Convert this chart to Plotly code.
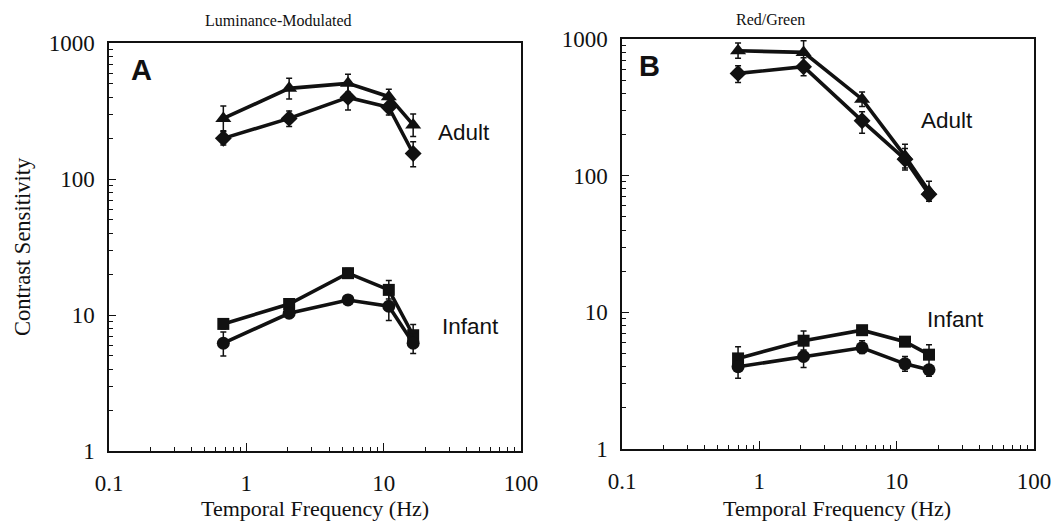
import plotly.graph_objects as go

# ---------------- data ----------------
freq_A = [0.68, 2.05, 5.5, 10.9, 16.4]
freq_B = [0.70, 2.1, 5.6, 11.5, 17.2]

# Panel A : Luminance-Modulated
A_adult_tri = [279, 464, 505, 403, 250]
A_adult_tri_hi = [344, 550, 588, 457, 301]
A_adult_tri_lo = [226, 388, 434, 355, 205]
A_adult_dia = [199, 279, 398, 337, 154]
A_adult_dia_hi = [223, 316, 493, 384, 188]
A_adult_dia_lo = [178, 243, 321, 296, 123]
A_inf_sq = [8.6, 12.05, 20.3, 15.3, 7.1]
A_inf_sq_hi = [9.3, 13.0, 22.0, 17.9, 8.5]
A_inf_sq_lo = [7.9, 11.2, 18.7, 13.1, 5.9]
A_inf_circ = [6.2, 10.3, 12.9, 11.6, 6.2]
A_inf_circ_hi = [7.5, 11.0, 13.8, 14.5, 7.4]
A_inf_circ_lo = [5.0, 9.6, 12.1, 9.1, 5.2]

# Panel B : Red/Green
B_adult_tri = [820, 798, 363, 139, 77]
B_adult_tri_hi = [935, 972, 410, 170, 91]
B_adult_tri_lo = [722, 655, 321, 114, 65]
B_adult_dia = [560, 627, 252, 132, 73]
B_adult_dia_hi = [637, 730, 293, 158, 80]
B_adult_dia_lo = [481, 538, 204, 110, 67]
B_inf_sq = [4.6, 6.2, 7.4, 6.1, 4.9]
B_inf_sq_hi = [5.6, 7.3, 7.9, 6.5, 5.8]
B_inf_sq_lo = [3.8, 5.3, 6.9, 5.7, 4.1]
B_inf_circ = [4.0, 4.75, 5.5, 4.2, 3.8]
B_inf_circ_hi = [4.5, 5.2, 6.2, 4.75, 4.1]
B_inf_circ_lo = [3.3, 3.95, 5.0, 3.7, 3.4]

x_tickvals = [0.1, 1, 10, 100]
x_ticktext = ["0.1", "1", "10", "100"]
y_tickvals = [1, 10, 100, 1000]
y_ticktext = ["1", "10", "100", "1000"]

panel_titles = ["Luminance-Modulated", "Red/Green"]
panel_letters = ["A", "B"]
x_title = "Temporal Frequency (Hz)"
y_title = "Contrast Sensitivity"

# ---------------- figure ----------------
W, H = 1060, 523
INK = "#111111"

def px(x):
    return x / W

def py(y):
    return 1 - y / H

fig = go.Figure()

def add_series(x, y, hi, lo, symbol, size, xa, ya):
    fig.add_trace(go.Scatter(
        x=x, y=y, xaxis=xa, yaxis=ya, mode="lines+markers",
        line=dict(color=INK, width=3.6),
        marker=dict(symbol=symbol, size=size, color=INK, line=dict(width=0)),
        error_y=dict(type="data", symmetric=False,
                     array=[h - v for h, v in zip(hi, y)],
                     arrayminus=[v - l for v, l in zip(y, lo)],
                     color=INK, thickness=1.5, width=3),
        showlegend=False, hoverinfo="skip"))

add_series(freq_A, A_adult_tri, A_adult_tri_hi, A_adult_tri_lo, "triangle-up", 14, "x", "y")
add_series(freq_A, A_adult_dia, A_adult_dia_hi, A_adult_dia_lo, "diamond", 13, "x", "y")
add_series(freq_A, A_inf_sq, A_inf_sq_hi, A_inf_sq_lo, "square", 12, "x", "y")
add_series(freq_A, A_inf_circ, A_inf_circ_hi, A_inf_circ_lo, "circle", 13, "x", "y")

add_series(freq_B, B_adult_tri, B_adult_tri_hi, B_adult_tri_lo, "triangle-up", 14, "x2", "y2")
add_series(freq_B, B_adult_dia, B_adult_dia_hi, B_adult_dia_lo, "diamond", 13, "x2", "y2")
add_series(freq_B, B_inf_sq, B_inf_sq_hi, B_inf_sq_lo, "square", 12, "x2", "y2")
add_series(freq_B, B_inf_circ, B_inf_circ_hi, B_inf_circ_lo, "circle", 13, "x2", "y2")

serif = "Liberation Serif, Times New Roman, serif"
sans = "Liberation Sans, Arial, sans-serif"

minor_x = [m * d for d in (0.1, 1, 10) for m in range(2, 10)]
minor_y = [m * d for d in (1, 10, 100) for m in range(2, 10)]

def xaxis_cfg(domain, anchor):
    return dict(type="log", range=[-1, 2], domain=domain, anchor=anchor,
                automargin=False,
                showline=True, linecolor=INK, linewidth=1.5, mirror=True,
                showgrid=False, zeroline=False,
                ticks="inside", ticklen=8, tickwidth=1.3, tickcolor=INK,
                tickmode="array", tickvals=x_tickvals, ticktext=x_ticktext,
                tickfont=dict(family=serif, size=23, color=INK),
                ticklabelstandoff=11,
                minor=dict(tickmode="array", tickvals=minor_x, ticks="inside",
                           ticklen=4, tickwidth=1.1, tickcolor=INK, showgrid=False))

def yaxis_cfg(domain, anchor):
    return dict(type="log", range=[0, 3], domain=domain, anchor=anchor,
                automargin=False,
                showline=True, linecolor=INK, linewidth=1.5, mirror=True,
                showgrid=False, zeroline=False,
                ticks="inside", ticklen=7, tickwidth=1.3, tickcolor=INK,
                tickmode="array", tickvals=y_tickvals, ticktext=y_ticktext,
                tickfont=dict(family=serif, size=23, color=INK),
                ticklabelstandoff=8,
                minor=dict(tickmode="array", tickvals=minor_y, ticks="inside",
                           ticklen=4, tickwidth=1.1, tickcolor=INK, showgrid=False))

fig.update_layout(
    width=W, height=H, margin=dict(l=0, r=0, t=0, b=0, autoexpand=False),
    paper_bgcolor="white", plot_bgcolor="white",
    xaxis=xaxis_cfg([px(109), px(521)], "y"),
    yaxis=yaxis_cfg([py(451), py(43)], "x"),
    xaxis2=xaxis_cfg([px(622), px(1034)], "y2"),
    yaxis2=yaxis_cfg([py(449), py(39)], "x2"),
)

ann = []
def note(text, x, y, font, size, angle=0, bold=False):
    ann.append(dict(text=f"<b>{text}</b>" if bold else text,
                    x=px(x), y=py(y), xref="paper", yref="paper",
                    xanchor="center", yanchor="middle", showarrow=False,
                    textangle=angle,
                    font=dict(family=font, size=size, color=INK)))

note(panel_titles[0], 278, 21, serif, 16)
note(panel_titles[1], 770, 19, serif, 16)
note(panel_letters[0], 141, 70, sans, 29, bold=True)
note(panel_letters[1], 649, 66, sans, 29, bold=True)
note("Adult", 464, 133, sans, 22.5)
note("Infant", 470, 326, sans, 22.5)
note("Adult", 947, 121, sans, 22.5)
note("Infant", 955, 319, sans, 22.5)
note(x_title, 315, 508, serif, 22)
note(x_title, 837, 508, serif, 22)
note(y_title, 22, 247, serif, 22.5, angle=-90)

fig.update_layout(annotations=ann)
fig.write_html("out.html")
